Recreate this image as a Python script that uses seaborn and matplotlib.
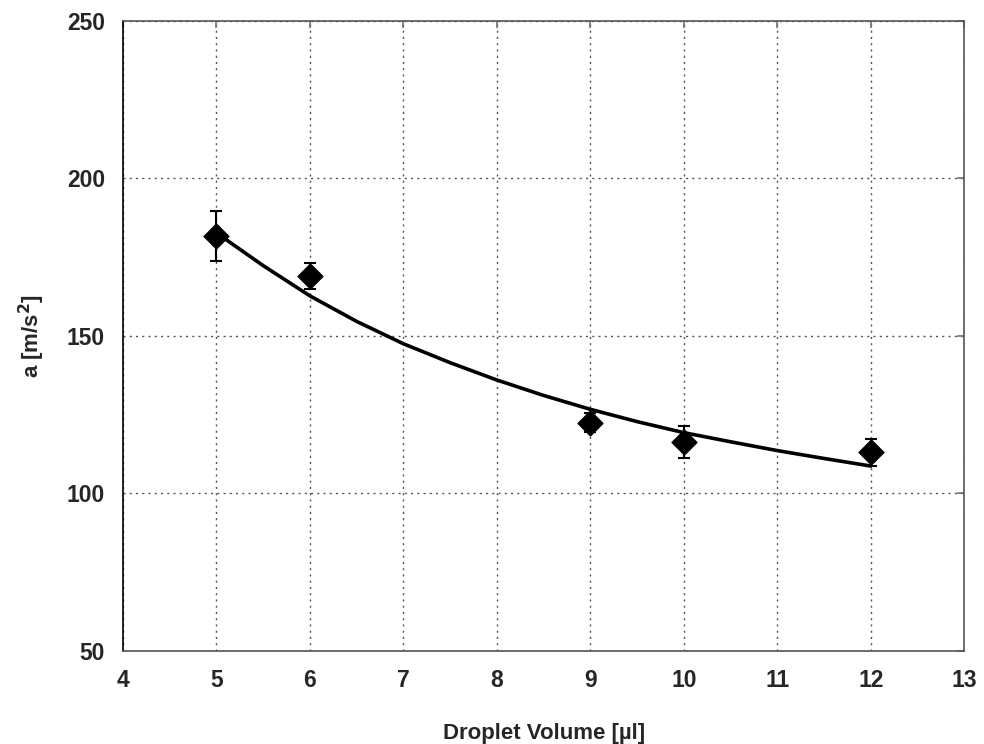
import matplotlib
matplotlib.use("Agg")
import matplotlib.pyplot as plt
import numpy as np
import pandas as pd
import seaborn as sns

# measured points (droplet volume in µl, acceleration in m/s^2)
volume = [5, 6, 9, 10, 12]
accel = [181.7, 169.0, 122.5, 116.4, 113.0]
accel_err = [8.0, 4.1, 3.0, 5.0, 4.3]

# fitted curve
fit_volume = [5, 5.5, 6, 6.5, 7, 7.5, 8, 8.5, 9, 9.5, 10, 10.5, 11, 11.5, 12]
fit_accel = [182.7, 172.3, 162.7, 154.6, 147.5, 141.5, 136.0, 131.1, 126.7,
             122.8, 119.3, 116.4, 113.6, 111.1, 108.7]

xticks = [4, 5, 6, 7, 8, 9, 10, 11, 12, 13]
yticks = [50, 100, 150, 200, 250]

sns.set_theme(style="white")
plt.rcParams['font.family'] = ['Liberation Sans', 'DejaVu Sans']

points = pd.DataFrame({"Volume": volume, "Accel": accel, "Err": accel_err})
fit = pd.DataFrame({"Volume": fit_volume, "Accel": fit_accel})

fig = plt.figure(figsize=(9.84, 7.44), dpi=100)
ax = fig.add_axes([0.125, 0.125, 0.855, 0.847])

sns.lineplot(x="Volume", y="Accel", data=fit, color="black", linewidth=2.6, ax=ax,
             sort=False, solid_joinstyle="round")
ax.errorbar(points.Volume, points.Accel, yerr=points.Err, fmt="none", ecolor="black",
            elinewidth=1.5, capsize=4, capthick=1.5, zorder=3)
sns.scatterplot(x="Volume", y="Accel", data=points, marker="D", s=160, color="black",
                edgecolor="black", ax=ax, zorder=4)

ax.set_xlim(4, 13)
ax.set_ylim(50, 250)
ax.set_xticks(xticks)
ax.set_yticks(yticks)
ax.set_xticklabels([str(t) for t in xticks], fontsize=16.5, fontweight="bold")
ax.set_yticklabels([str(t) for t in yticks], fontsize=16.5, fontweight="bold")
ax.tick_params(direction="in", length=5, color="#777777", top=True, right=True, pad=13)
ax.grid(True, linestyle=(0, (1.5, 3)), color="#555555", linewidth=1)

for sp in ax.spines.values():
    sp.set_color("#555555")
    sp.set_linewidth(1.2)
ax.spines["left"].set_color("black")

ax.set_xlabel("Droplet Volume [µl]", fontsize=16, fontweight="bold", labelpad=22)
ax.set_ylabel("a [m/s$^\\mathbf{2}$]", fontsize=16, fontweight="bold", labelpad=14)

fig.savefig("out.png", dpi=100)
